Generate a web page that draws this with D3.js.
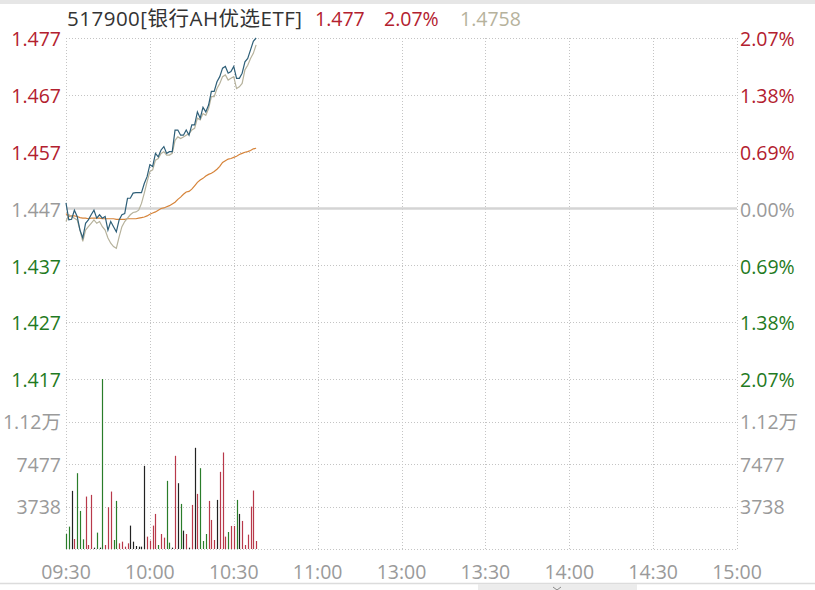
<!DOCTYPE html>
<html>
<head>
<meta charset="utf-8">
<script src="https://cdn.jsdelivr.net/npm/d3@7"></script>
<style>
  body { margin: 0; background: #fff; }
  svg { display: block; font-family: "Open Sans", "Noto Sans CJK SC", sans-serif; }
</style>
</head>
<body>
<div id="chart"></div>
<script>
// data //

let title = "517900[银行AH优选ETF]";
let headPrice = "1.477", headPct = "2.07%", headRef = "1.4758";

let timeLabels = ["09:30", "10:00", "10:30", "11:00", "13:00", "13:30", "14:00", "14:30", "15:00"];
let preClose = 1.447;
let priceTicks = [1.477, 1.467, 1.457, 1.447, 1.437, 1.427, 1.417];
let pctLabels = ["2.07%", "1.38%", "0.69%", "0.00%", "0.69%", "1.38%", "2.07%"];
let volMax = 14954;
let volTicks = [11215, 7477, 3738];
let volLabels = ["1.12万", "7477", "3738"];

// one value per minute from 09:30
let price = [
  1.4480, 1.4450, 1.4451, 1.4467, 1.4456, 1.4432, 1.4418, 1.4444, 1.4450, 1.4459,
  1.4467, 1.4453, 1.4459, 1.4453, 1.4456, 1.4432, 1.4447, 1.4438, 1.4429, 1.4450,
  1.4459, 1.4461, 1.4488, 1.4488, 1.4497, 1.4498, 1.4498, 1.4498, 1.4514, 1.4526,
  1.4547, 1.4544, 1.4567, 1.4561, 1.4573, 1.4579, 1.4567, 1.4570, 1.4570, 1.4608,
  1.4608, 1.4599, 1.4599, 1.4608, 1.4599, 1.4617, 1.4617, 1.4640, 1.4629, 1.4648,
  1.4640, 1.4652, 1.4676, 1.4676, 1.4693, 1.4702, 1.4717, 1.4720, 1.4708, 1.4711,
  1.4720, 1.4699, 1.4699, 1.4708, 1.4728, 1.4734, 1.4749, 1.4764, 1.4770
];
let refPrice = [
  1.4447, 1.4459, 1.4456, 1.4453, 1.4450, 1.4432, 1.4412, 1.4432, 1.4438, 1.4444,
  1.4450, 1.4444, 1.4447, 1.4438, 1.4432, 1.4418, 1.4409, 1.4403, 1.4400, 1.4420,
  1.4438, 1.4447, 1.4453, 1.4459, 1.4463, 1.4464, 1.4467, 1.4479, 1.4497, 1.4517,
  1.4535, 1.4538, 1.4555, 1.4558, 1.4567, 1.4570, 1.4564, 1.4564, 1.4567, 1.4590,
  1.4596, 1.4593, 1.4596, 1.4599, 1.4602, 1.4608, 1.4611, 1.4629, 1.4626, 1.4637,
  1.4634, 1.4646, 1.4667, 1.4667, 1.4681, 1.4690, 1.4702, 1.4705, 1.4696, 1.4699,
  1.4702, 1.4681, 1.4684, 1.4690, 1.4714, 1.4722, 1.4734, 1.4743, 1.4758
];
let avgPrice = [
  1.4461, 1.4456, 1.4457, 1.4457, 1.4456, 1.4454, 1.4453, 1.4453, 1.4452, 1.4453,
  1.4453, 1.4453, 1.4453, 1.4452, 1.4452, 1.4452, 1.4452, 1.4452, 1.4451, 1.4451,
  1.4451, 1.4451, 1.4452, 1.4452, 1.4452, 1.4452, 1.4453, 1.4454, 1.4455, 1.4457,
  1.4460, 1.4462, 1.4464, 1.4467, 1.4470, 1.4471, 1.4473, 1.4475, 1.4478, 1.4481,
  1.4486, 1.4490, 1.4495, 1.4499, 1.4500, 1.4504, 1.4510, 1.4516, 1.4520, 1.4523,
  1.4527, 1.4530, 1.4532, 1.4535, 1.4539, 1.4544, 1.4551, 1.4554, 1.4557, 1.4558,
  1.4560, 1.4562, 1.4565, 1.4567, 1.4569, 1.4570, 1.4572, 1.4575, 1.4576
];
let volume = [
  1322, 1968, 5112, 881, 6669, 3349, 852, 4613, 353, 4760,
  118, 1440, 118, 14954, 353, 3673, 5053, 793, 4231, 499,
  646, 206, 499, 2057, 646, 264, 206, 206, 7316, 1087,
  735, 2057, 3085, 353, 1322, 999, 5994, 558, 118, 8197,
  5788, 3966, 1616, 1322, 118, 3878, 8902, 4848, 7110, 705,
  1322, 4231, 2556, 793, 4319, 6787, 8491, 1087, 1498, 2027,
  2027, 4319, 3085, 2468, 353, 1263, 3731, 5142, 705
];
// u = up (red), d = down (green), f = flat (black)
let volDir = [
  "d", "d", "f", "u", "d", "d", "d", "u", "u", "u",
  "f", "d", "f", "d", "u", "u", "u", "d", "d", "u",
  "u", "u", "u", "f", "f", "f", "f", "f", "f", "u",
  "u", "u", "u", "d", "u", "u", "d", "d", "f", "u",
  "f", "d", "f", "u", "f", "u", "f", "u", "d", "d",
  "d", "u", "u", "u", "f", "u", "u", "u", "d", "u",
  "u", "d", "f", "u", "u", "u", "u", "u", "u"
];

// chart setup //

let SVGwidth = 815, SVGheight = 590;
let plot = {left: 66, right: 737, top: 38, priceBottom: 379, bottom: 549};

let red = "#b3202e", green = "#1f7a22", gray = "#9a9a9a", dark = "#333";

let svg = d3.select("#chart").append("svg")
    .attr("width", SVGwidth)
    .attr("height", SVGheight);

svg.append("rect")
    .attr("width", SVGwidth).attr("height", SVGheight)
    .attr("fill", "#fff");

// top and bottom window edges
svg.append("rect")
    .attr("x", 0).attr("y", 0).attr("width", SVGwidth).attr("height", 4)
    .attr("fill", "#e6e6e6");
svg.append("line")
    .attr("x1", 0).attr("x2", SVGwidth).attr("y1", 583.5).attr("y2", 583.5)
    .attr("stroke", "#dcdcdc").attr("stroke-width", 1.5);
svg.append("rect")
    .attr("x", 478).attr("y", 584).attr("width", 159).attr("height", 6)
    .attr("fill", "#ececec");
svg.append("path")
    .attr("d", "M553,587 L557,590 L561,587")
    .attr("fill", "none").attr("stroke", "#888").attr("stroke-width", 1);

let xScale = d3.scaleLinear().domain([0, 240]).range([plot.left, plot.right]);
let yScale = d3.scaleLinear().domain([1.417, 1.477]).range([plot.priceBottom, plot.top]);
let vScale = d3.scaleLinear().domain([0, volMax]).range([plot.bottom, plot.priceBottom]);

let timeTicks = timeLabels.map(function(d, i) { return i * 30; });

// gridlines
let grid = svg.append("g").attr("class", "grid");

grid.selectAll(".vgrid")
    .data(timeTicks)
    .enter().append("line")
    .attr("class", "vgrid")
    .attr("x1", function(d) { return Math.round(xScale(d)) + 0.5; })
    .attr("x2", function(d) { return Math.round(xScale(d)) + 0.5; })
    .attr("y1", plot.top)
    .attr("y2", plot.bottom)
    .attr("stroke", "#c4c4c4")
    .attr("stroke-dasharray", "1,2");

grid.selectAll(".pgrid")
    .data(priceTicks.filter(function(d) { return d != preClose; }))
    .enter().append("line")
    .attr("class", "pgrid")
    .attr("x1", plot.left).attr("x2", plot.right)
    .attr("y1", function(d) { return Math.round(yScale(d)) + 0.5; })
    .attr("y2", function(d) { return Math.round(yScale(d)) + 0.5; })
    .attr("stroke", "#c4c4c4")
    .attr("stroke-dasharray", "1,2");

grid.selectAll(".vol-grid")
    .data(volTicks.concat([0]))
    .enter().append("line")
    .attr("class", "vol-grid")
    .attr("x1", plot.left).attr("x2", plot.right)
    .attr("y1", function(d) { return Math.round(vScale(d)) + 0.5; })
    .attr("y2", function(d) { return Math.round(vScale(d)) + 0.5; })
    .attr("stroke", "#c4c4c4")
    .attr("stroke-dasharray", "1,2");

// pre-close line
grid.append("line")
    .attr("x1", plot.left).attr("x2", plot.right)
    .attr("y1", yScale(preClose)).attr("y2", yScale(preClose))
    .attr("stroke", "#d4d4d4")
    .attr("stroke-width", 2.5);

// axis labels
function priceColor(d) {
    if (d > preClose + 1e-9) return red;
    if (d < preClose - 1e-9) return green;
    return gray;
}

let labelFont = 19.5;

svg.selectAll(".pLabel")
    .data(priceTicks)
    .enter().append("text")
    .attr("class", "pLabel")
    .attr("x", 61)
    .attr("y", function(d) { return yScale(d) + 1.5; })
    .attr("dy", "0.35em")
    .attr("text-anchor", "end")
    .attr("font-size", labelFont)
    .attr("fill", priceColor)
    .text(function(d) { return d.toFixed(3); });

svg.selectAll(".pctLabel")
    .data(priceTicks)
    .enter().append("text")
    .attr("class", "pctLabel")
    .attr("x", 740)
    .attr("y", function(d) { return yScale(d) + 1.5; })
    .attr("dy", "0.35em")
    .attr("font-size", labelFont)
    .attr("fill", priceColor)
    .text(function(d, i) { return pctLabels[i]; });

svg.selectAll(".vLabelL")
    .data(volTicks)
    .enter().append("text")
    .attr("class", "vLabelL")
    .attr("x", 61)
    .attr("y", function(d) { return vScale(d) + 1; })
    .attr("dy", "0.35em")
    .attr("text-anchor", "end")
    .attr("font-size", labelFont)
    .attr("fill", gray)
    .text(function(d, i) { return volLabels[i]; });

svg.selectAll(".vLabelR")
    .data(volTicks)
    .enter().append("text")
    .attr("class", "vLabelR")
    .attr("x", 740)
    .attr("y", function(d) { return vScale(d) + 1; })
    .attr("dy", "0.35em")
    .attr("text-anchor", "start")
    .attr("font-size", labelFont)
    .attr("fill", gray)
    .text(function(d, i) { return volLabels[i]; });

svg.selectAll(".tLabel")
    .data(timeTicks)
    .enter().append("text")
    .attr("class", "tLabel")
    .attr("x", function(d) { return xScale(d); })
    .attr("y", 572)
    .attr("dy", "0.35em")
    .attr("text-anchor", "middle")
    .attr("font-size", labelFont)
    .attr("fill", gray)
    .text(function(d, i) { return timeLabels[i]; });

// header
let head = svg.append("g").attr("font-size", labelFont);
head.append("text").attr("x", 67).attr("y", 19).attr("dy", "0.35em").attr("fill", dark)
    .attr("font-size", 20.5)
    .attr("textLength", 235).attr("lengthAdjust", "spacing")
    .text(title);
head.append("text").attr("x", 315).attr("y", 19).attr("dy", "0.35em").attr("fill", red).text(headPrice);
head.append("text").attr("x", 384).attr("y", 19).attr("dy", "0.35em").attr("fill", red).text(headPct);
head.append("text").attr("x", 460).attr("y", 19).attr("dy", "0.35em").attr("fill", "#b6b29c").text(headRef);

// volume bars
let dirColor = {u: "#b8394a", d: "#2a7d2a", f: "#222"};

svg.selectAll(".vol")
    .data(volume)
    .enter().append("line")
    .attr("class", "vol")
    .attr("x1", function(d, i) { return Math.round(xScale(i)) + 0.5; })
    .attr("x2", function(d, i) { return Math.round(xScale(i)) + 0.5; })
    .attr("y1", vScale(0))
    .attr("y2", function(d) { return vScale(d); })
    .attr("stroke", function(d, i) { return dirColor[volDir[i]]; })
    .attr("stroke-width", 1.2);

// lines
let line = d3.line()
    .x(function(d, i) { return xScale(i); })
    .y(function(d) { return yScale(d); });

svg.append("path")
    .datum(avgPrice)
    .attr("d", line)
    .attr("fill", "none")
    .attr("stroke", "#d6843a")
    .attr("stroke-width", 1.2);

svg.append("path")
    .datum(refPrice)
    .attr("d", line)
    .attr("fill", "none")
    .attr("stroke", "#b6b29c")
    .attr("stroke-width", 1.2);

svg.append("path")
    .datum(price)
    .attr("d", line)
    .attr("fill", "none")
    .attr("stroke", "#2e5f78")
    .attr("stroke-width", 1.2);
</script>
</body>
</html>
